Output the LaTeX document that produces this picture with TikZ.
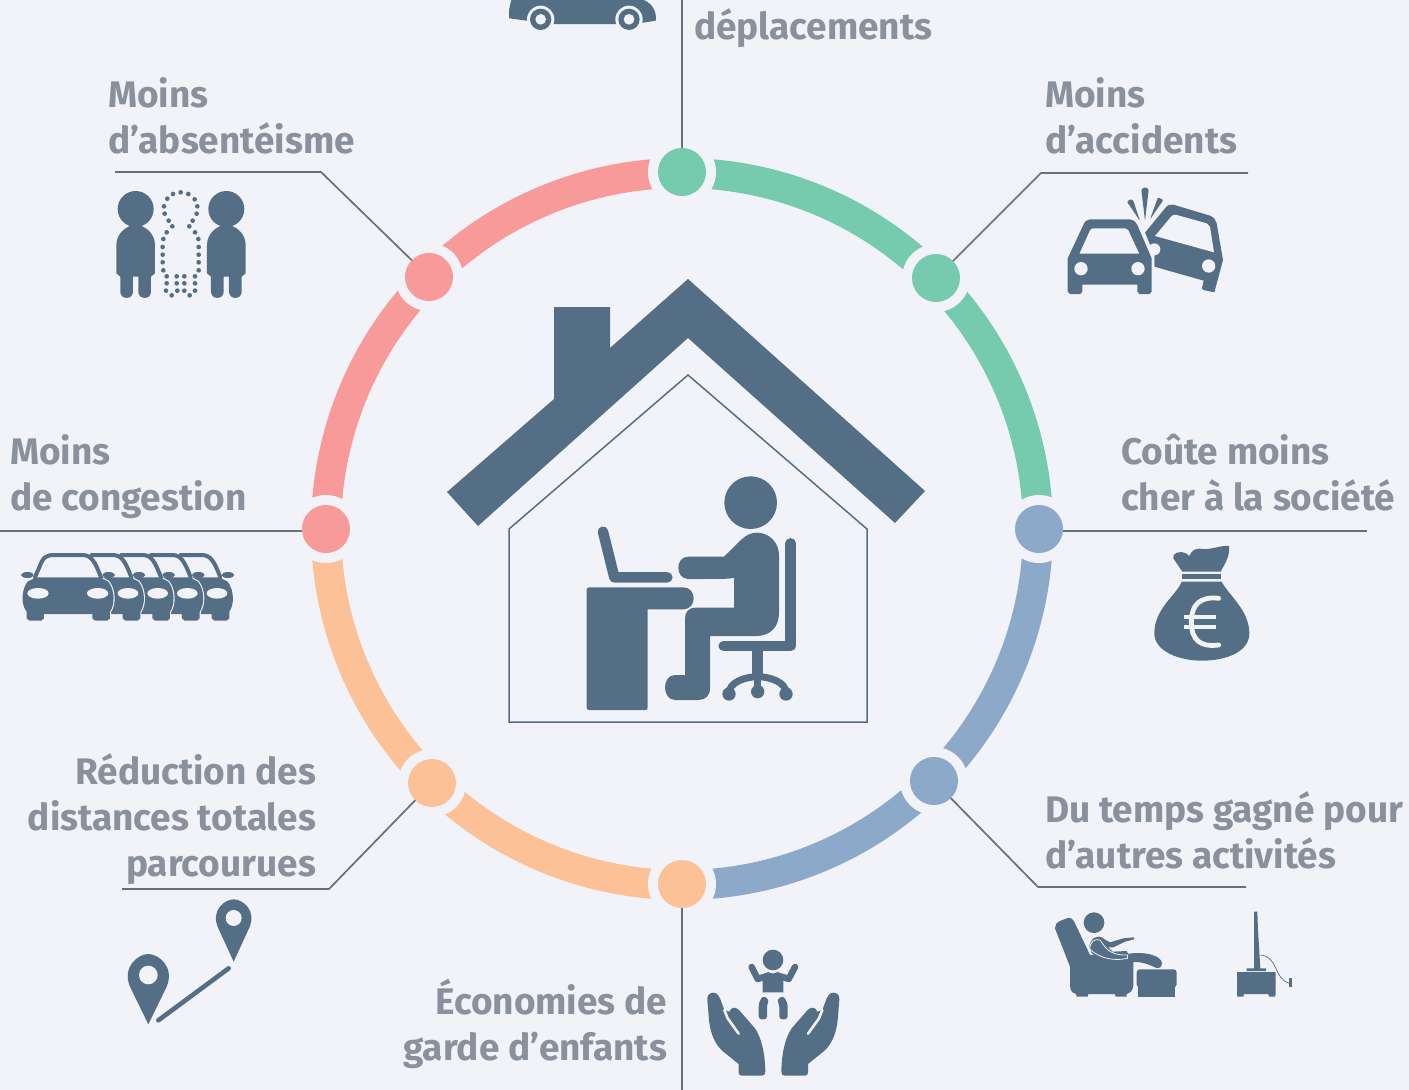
\documentclass[tikz,border=0pt]{standalone}
\usepackage{fontspec}
\setmainfont{Fira Sans}
\definecolor{bgc}{HTML}{F1F3F8}
\definecolor{slate}{HTML}{546E85}
\definecolor{txt}{HTML}{8A919C}
\definecolor{ln}{HTML}{6B6E73}
\definecolor{grn}{HTML}{76CAAD}
\definecolor{sal}{HTML}{F99A9A}
\definecolor{pch}{HTML}{FDC197}
\definecolor{blu}{HTML}{8DA9C9}
\tikzset{
  dotnode/.style={circle,minimum size=48pt,inner sep=0pt,outer sep=0pt,fill=#1},
  ring/.style={line width=30pt,draw=#1},
  conn/.style={draw=ln,line width=1.7pt},
  lbl/.style={text=txt,font=\bfseries\fontsize{37}{46}\selectfont,inner sep=0pt,outer sep=0pt},
  ic/.style={fill=slate},
  hole/.style={fill=bgc},
  zs/.style={scale=0.33333},
  limb/.style={draw=slate,line width=#1,line cap=round,line join=round},
}
% cars seen from the front, in reference-zoom units
\newcommand{\carbody}{(108,112) -- (300,112) -- (325,125) .. controls (345,150) and (345,195) .. (330,215) -- (330,235) -- (322,242) -- (285,242) -- (277,235) -- (277,222) -- (132,222) -- (132,235) -- (124,242) -- (88,242) -- (80,235) -- (80,215) .. controls (63,195) and (63,150) .. (83,125) -- cycle}
\newcommand{\halfbody}{(200,112) -- (300,112) -- (325,125) .. controls (345,150) and (345,195) .. (330,215) -- (330,235) -- (322,242) -- (285,242) -- (277,235) -- (277,222) -- (200,222) -- cycle}
\newcommand{\backcar}[1]{%
  \begin{scope}[shift={(#1,0)}]
    \fill[bgc,draw=bgc,line width=2.2pt] \halfbody;
    \fill[ic] \halfbody;
    \draw[limb=4pt] (184,45) -- (250,45) .. controls (275,47) and (285,65) .. (303,112);
    \fill[ic] (326,105) ellipse (19 and 9);
    \fill[hole] (293,160) ellipse (31 and 16);
  \end{scope}}
\newcommand{\handicon}{%
  \fill[ic] (52,210) .. controls (50,195) and (60,188) .. (70,188) .. controls (80,188) and (87,197) .. (90,205) -- (103,240) -- (118,245) .. controls (122,233) and (135,228) .. (147,240) -- (195,295) .. controls (215,325) and (225,370) .. (226,425) .. controls (226,433) and (222,437) .. (215,437) -- (155,437) .. controls (150,437) and (146,433) .. (146,428) -- (146,402) -- (100,365) .. controls (70,340) and (60,300) .. (57,270) -- cycle;
  \draw[bgc,line width=2.6pt,line cap=round] (103,240) -- (113,265) -- (146,311);}
\begin{document}
\begin{tikzpicture}[x=1pt,y=-1pt]
\useasboundingbox (0,0) rectangle (1409,1090);
\fill[bgc] (0,0) rectangle (1409,1090);
% ---- ring
\def\R{356}
\foreach \a/\b/\c in {90/45/grn,45/0/grn,0/-45/blu,-45/-90/blu,-90/-135/pch,-135/-180/pch,180/135/sal,135/90/sal}{
  \draw[ring=\c] ({682+\R*cos(\a)},{529-\R*sin(\a)}) arc[start angle=\a,end angle=\b,x radius=\R,y radius=-\R];
}
\foreach \x/\y in {682/172,936/278,1039/529,934/781,682/884,432/783,326/529,429/277}{
  \fill[bgc] (\x,\y) circle (34);
}
% ---- ring nodes
\node[dotnode=grn] (top) at (682,172) {};
\node[dotnode=grn] (tr) at (936,278) {};
\node[dotnode=blu] (right) at (1039,529) {};
\node[dotnode=blu] (br) at (934,781) {};
\node[dotnode=pch] (bottom) at (682,884) {};
\node[dotnode=pch] (bl) at (432,783) {};
\node[dotnode=sal] (left) at (326,529) {};
\node[dotnode=sal] (tl) at (429,277) {};
% ---- connectors
\coordinate (ctop) at (682,0);
\coordinate (cbot) at (682,1090);
\coordinate (cleft) at (0,531);
\coordinate (cright) at (1367,531);
\coordinate (tl1) at (321,172); \coordinate (tl2) at (115,172);
\coordinate (tr1) at (1041,173); \coordinate (tr2) at (1248,173);
\coordinate (br1) at (1038,887); \coordinate (br2) at (1246,887);
\coordinate (bl1) at (329,889); \coordinate (bl2) at (122,889);
\draw[conn] (ctop) -- (top);
\draw[conn] (cbot) -- (bottom);
\draw[conn] (cleft) -- (left.west |- cleft);
\draw[conn] (right.east |- cright) -- (cright);
\draw[conn] (tl2) -- (tl1) -- (tl);
\draw[conn] (tr2) -- (tr1) -- (tr);
\draw[conn] (br2) -- (br1) -- (br);
\draw[conn] (bl2) -- (bl1) -- (bl);
% ---- labels (base anchor is the last line)
\node[lbl,align=left,anchor=base west] (l1) at (694,39) {déplacements};
\node[lbl,align=left,anchor=base west] (l2) at (108,153) {Moins\\d’absentéisme};
\node[lbl,align=left,anchor=base west] (l3) at (1045,153) {Moins\\d’accidents};
\node[lbl,align=left,anchor=base west] (l4) at (1121,510) {Coûte moins\\cher à la société};
\node[lbl,align=left,anchor=base west] (l5) at (10,510) {Moins\\de congestion};
\node[lbl,align=left,anchor=base west] (l6) at (1045,868) {Du temps gagné pour\\d’autres activités};
\node[lbl,align=right,anchor=base east] (l7) at (316,876) {Réduction des\\distances totales\\parcourues};
\node[lbl,align=right,anchor=base east] (l8) at (667,1060) {Économies de\\garde d’enfants};
% ---- house
\fill[ic] (688,279) -- (925,491) -- (895,523) -- (688,338) -- (478,526) -- (447,492) -- (554,399) -- (554,307) -- (610,307) -- (610,348) -- cycle;
\draw[slate,line width=1.5pt] (509,722) -- (509,529) -- (688,375) -- (867,529) -- (867,722) -- cycle;
% ---- worker
\begin{scope}[shift={(560,450)},zs]
  \fill[ic] (572,158) circle (79);
  \fill[ic] (385,320) -- (492,320) -- (545,268) .. controls (560,254) and (575,248) .. (590,248) .. controls (630,248) and (657,280) .. (657,315) -- (657,490) .. controls (657,530) and (630,558) .. (590,558) -- (450,558) -- (450,715) .. controls (450,738) and (435,750) .. (415,750) -- (345,750) .. controls (325,750) and (315,730) .. (315,712) .. controls (315,695) and (325,675) .. (345,675) -- (375,675) -- (375,505) .. controls (375,485) and (388,473) .. (405,473) -- (522,473) -- (522,383) .. controls (510,387) and (500,387) .. (385,387) .. controls (365,387) and (355,370) .. (355,353) .. controls (355,336) and (365,320) .. (385,320) -- cycle;
  \fill[ic] (88,412) -- (370,412) .. controls (390,412) and (401,428) .. (401,445) .. controls (401,462) and (390,478) .. (370,478) -- (263,478) -- (263,772) .. controls (263,778) and (260,780) .. (256,780) -- (88,780) .. controls (83,780) and (80,778) .. (80,772) -- (80,420) .. controls (80,415) and (83,412) .. (88,412) -- cycle;
  \draw[limb=10.5pt] (129,245) -- (163,382) -- (322,382);
  \draw[limb=10.5pt] (692,280) -- (692,588) -- (491,588);
  \draw[limb=10.5pt] (593,595) -- (593,672);
  \draw[limb=7pt] (593,672) -- (593,725);
  \draw[limb=7pt] (507,732) .. controls (505,695) and (560,680) .. (593,680) .. controls (626,680) and (681,695) .. (678,732);
  \fill[ic] (593,725) circle (20);
  \fill[ic] (507,732) circle (20);
  \fill[ic] (678,732) circle (20);
\end{scope}
% ---- absent colleagues
\begin{scope}[shift={(0,60)},zs]
  \foreach \s in {0,272}{
    \begin{scope}[shift={(\s,0)}]
      \fill[ic] (407,447) circle (54);
      \fill[ic] (349,640) -- (349,555) .. controls (349,520) and (380,495) .. (407,495) .. controls (434,495) and (465,520) .. (465,555) -- (465,640) -- (453,650) -- (453,695) .. controls (453,720) and (415,720) .. (415,695) -- (415,650) -- (399,650) -- (399,695) .. controls (399,720) and (361,720) .. (361,695) -- (361,650) -- cycle;
    \end{scope}}
  \foreach \x/\y in {542/397,519/402,565/402,584/418,502/416,492/439,592/439,494/461,590/461,506/482,578/482,517/499,568/499,500/517,585/517,490/537,595/537,488/561,596/561,488/584,596/584,488/607,596/607,490/631,596/631,500/649,530/649,553/649,585/649,500/670,530/670,553/670,585/670,498/692,532/692,553/692,585/692,515/706,569/706}{
    \fill[ic] (\x,\y) circle (7);
  }
\end{scope}
% ---- accident
\begin{scope}[shift={(1020,160)},zs]
  \fill[ic] (375,218) -- (435,145) .. controls (442,135) and (450,132) .. (460,134) -- (570,167) .. controls (582,172) and (588,180) .. (590,190) -- (609,300) -- (583,397) -- (550,390) -- (546,385) -- (551,362) -- (403,320) -- (403,280) -- (380,240) -- cycle;
  \fill[hole] (405,228) -- (582,277) -- (570,200) .. controls (568,195) and (565,192) .. (560,190) -- (470,165) .. controls (462,163) and (458,165) .. (455,168) -- cycle;
  \fill[hole] (566,318) circle (20);
  \fill[hole] (403,268) circle (18);
  \fill[bgc] (355,195) -- (375,218) -- (402,285) -- (402,405) -- (395,405) -- (395,295) -- cycle;
  \fill[ic,even odd rule] (143,395) -- (150,402) -- (180,402) -- (187,395) -- (187,374) -- (352,374) -- (352,395) -- (358,402) -- (388,402) -- (395,395) -- (395,295) -- (352,195) .. controls (345,183) and (338,178) .. (330,178) -- (210,178) .. controls (200,178) and (194,185) .. (190,195) -- (143,295) -- cycle (178,281) -- (358,281) -- (325,210) .. controls (322,206) and (320,205) .. (316,205) -- (222,205) .. controls (216,205) and (213,206) .. (210,210) -- cycle;
  \fill[hole] (183,326) circle (20);
  \fill[hole] (354,326) circle (20);
  \fill[ic,rounded corners=1pt] (375,183) -- (364,88) -- (375,81) -- (386,88) -- cycle;
  \fill[ic,rounded corners=1pt] (360,183) -- (321,125) -- (332,117) -- (340,122) -- cycle;
  \fill[ic,rounded corners=1pt] (390,178) -- (414,112) -- (430,120) -- cycle;
\end{scope}
% ---- money bag
\begin{scope}[shift={(1130,530)},zs]
  \fill[ic] (155,155) .. controls (140,195) and (73,235) .. (73,310) .. controls (73,365) and (150,392) .. (215,392) .. controls (290,392) and (358,365) .. (358,310) .. controls (358,240) and (295,195) .. (275,155) -- cycle;
  \fill[ic] (157,133) rectangle (273,147);
  \fill[ic] (157,125) -- (130,85) .. controls (125,70) and (150,60) .. (168,70) -- (178,78) .. controls (185,62) and (195,55) .. (210,56) .. controls (240,62) and (270,45) .. (297,48) .. controls (300,80) and (285,100) .. (272,125) -- cycle;
  \draw[white!92!slate,line width=4.8pt,line cap=round] (266,205) .. controls (210,198) and (184,225) .. (184,275) .. controls (184,330) and (210,352) .. (266,345);
  \draw[white!92!slate,line width=4pt] (162,260) -- (258,260) (162,290) -- (258,290);
\end{scope}
% ---- car cut by the top edge
\begin{scope}
  \clip (0,0) rectangle (1409,1090);
  \begin{scope}[shift={(490,0)},zs]
  \fill[ic] (66,-10) -- (57,30) -- (57,55) -- (110,62) -- (190,72) -- (380,72) -- (460,68) -- (497,62) .. controls (500,45) and (495,15) .. (462,0) -- (450,-10) -- cycle;
  \foreach \x in {152,417}{
    \fill[hole] (\x,58) circle (41);
    \fill[ic] (\x,58) circle (32);
    \fill[hole] (\x,58) circle (16);
  }
  \end{scope}
\end{scope}
% ---- traffic jam
\begin{scope}[shift={(0,540)},zs]
  \backcar{358}
  \backcar{269}
  \backcar{180}
  \backcar{91}
  \fill[bgc,draw=bgc,line width=2.2pt] \carbody;
  \fill[ic] \carbody;
  \draw[limb=4pt] (105,112) -- (125,65) .. controls (132,50) and (145,45) .. (160,45) -- (250,45) .. controls (275,47) and (285,65) .. (303,112);
  \fill[ic] (82,105) ellipse (19 and 9);
  \fill[ic] (326,105) ellipse (19 and 9);
  \fill[hole] (114,160) ellipse (32 and 16);
  \fill[hole] (293,160) ellipse (32 and 16);
\end{scope}
% ---- route pins
\begin{scope}[shift={(110,890)},zs]
  \fill[ic] (371,215) -- (325,115) .. controls (300,60) and (345,28) .. (371,28) .. controls (397,28) and (442,60) .. (417,115) -- cycle;
  \fill[hole] (371,84) circle (24);
  \fill[ic] (115,403) -- (60,290) .. controls (35,230) and (85,192) .. (115,192) .. controls (145,192) and (195,230) .. (170,290) -- cycle;
  \fill[hole] (115,255) circle (28);
  \draw[limb=4.6pt] (145,391) -- (356,235);
\end{scope}
% ---- armchair and television
\begin{scope}[shift={(1030,890)},zs]
  \fill[ic] (192,98) circle (31);
  \fill[ic] (75,115) .. controls (75,105) and (80,97) .. (90,93) -- (110,85) .. controls (122,80) and (130,88) .. (135,100) -- (180,195) -- (290,192) .. controls (340,183) and (395,195) .. (396,220) .. controls (395,238) and (380,236) .. (370,230) .. controls (350,220) and (330,215) .. (310,216) -- (310,285) .. controls (310,300) and (300,310) .. (290,312) -- (290,320) -- (257,320) -- (255,312) -- (175,312) -- (173,320) -- (140,320) -- (138,312) .. controls (125,308) and (120,300) .. (120,290) -- (120,230) -- cycle;
  \fill[ic] (178,170) .. controls (180,145) and (205,130) .. (222,147) -- (240,157) -- (280,145) -- (312,142) -- (312,148) -- (285,155) -- (250,172) -- (235,172) -- (248,185) -- (290,183) -- (296,195) -- (292,205) .. controls (260,215) and (220,210) .. (200,200) -- (185,190) -- cycle;
  \draw[bgc,line width=0.8pt] (180,178) .. controls (178,155) and (195,145) .. (210,150) .. controls (225,170) and (235,195) .. (285,195) -- (293,195) -- (292,205) .. controls (260,212) and (215,210) .. (180,178);
  \fill[ic,rounded corners=3pt] (320,238) rectangle (440,292);
  \fill[ic] (325,280) rectangle (435,320);
  \fill[ic] (672,65) -- (682,65) -- (684,120) -- (691,235) -- (708,235) -- (708,243) -- (650,243) -- (650,235) -- (672,235) -- cycle;
  \fill[ic] (621,246) -- (737,246) -- (737,312) -- (735,320) -- (717,320) -- (715,312) -- (642,312) -- (640,320) -- (622,320) -- (621,312) -- cycle;
  \draw[slate,line width=0.7pt] (692,195) .. controls (745,200) and (730,265) .. (778,280);
  \fill[ic] (778,263) rectangle (785,292);
\end{scope}
% ---- baby in hands
\begin{scope}[shift={(690,930)},zs]
  \fill[ic] (249,90) circle (31);
  \fill[ic] (218,133) -- (235,126) .. controls (245,132) and (255,132) .. (263,126) -- (280,133) -- (280,187) -- (218,187) -- cycle;
  \draw[limb=6.5pt] (185,111) -- (203,147) -- (225,140);
  \draw[limb=6.5pt] (315,111) -- (296,147) -- (275,140);
  \fill[ic,rounded corners=3pt] (218,197) -- (238,209) -- (231,223) -- (231,268) -- (206,268) -- (206,220) -- cycle;
  \fill[ic,rounded corners=3pt] (280,197) -- (260,209) -- (268,223) -- (268,268) -- (293,268) -- (293,220) -- cycle;
  \handicon
  \begin{scope}[shift={(500,0)},xscale=-1]
    \handicon
  \end{scope}
\end{scope}
\end{tikzpicture}
\end{document}
